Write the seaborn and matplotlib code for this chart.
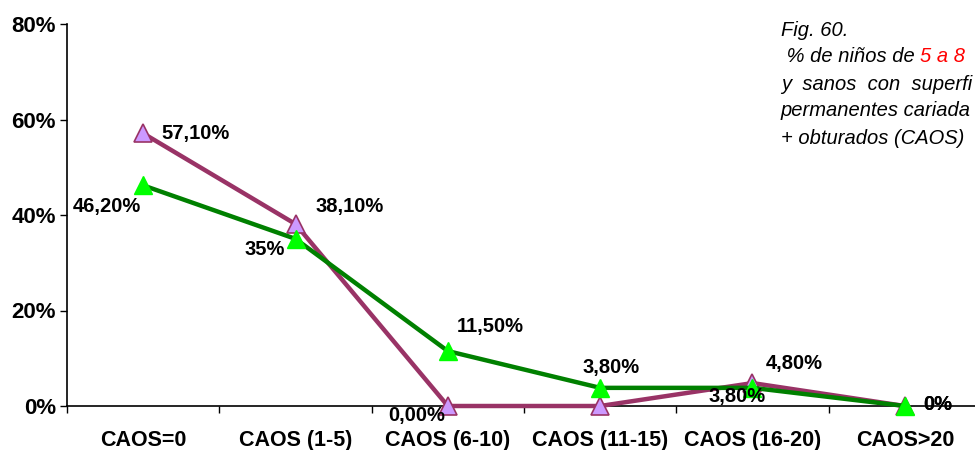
import matplotlib
matplotlib.use("Agg")
import matplotlib.pyplot as plt
import seaborn as sns
import numpy as np
from matplotlib.ticker import FixedLocator, FuncFormatter

categories = ["CAOS=0", "CAOS (1-5)", "CAOS (6-10)", "CAOS (11-15)", "CAOS (16-20)", "CAOS>20"]
serie_morada = [57.1, 38.1, 0.0, 0.0, 4.8, 0.0]
serie_verde = [46.2, 35.0, 11.5, 3.8, 3.8, 0.0]
etiquetas_morada = ["57,10%", "38,10%", "0,00%", "", "4,80%", "0%"]
etiquetas_verde = ["46,20%", "35%", "11,50%", "3,80%", "3,80%", "0%"]
y_ticks = [0, 20, 40, 60, 80]

sns.set_style("white")
plt.rcParams["font.family"] = ["Liberation Sans", "DejaVu Sans"]
plt.rcParams["text.color"] = "black"
plt.rcParams["xtick.color"] = "black"
plt.rcParams["ytick.color"] = "black"
plt.rcParams["axes.labelcolor"] = "black"

W, H = 975, 450
fig = plt.figure(figsize=(W / 100, H / 100), dpi=100)
left, right_px, top, bottom = 67, 67 + 914, 24, 406
ax = fig.add_axes([left / W, 1 - bottom / H, (right_px - left) / W, (bottom - top) / H])

x = np.arange(len(categories))
sns.lineplot(x=x, y=serie_morada, ax=ax, color="#993366", linewidth=3.2,
             marker="^", markersize=13, markerfacecolor="#CC99FF",
             markeredgecolor="#993366", markeredgewidth=1.2, clip_on=False, zorder=3)
sns.lineplot(x=x, y=serie_verde, ax=ax, color="#008000", linewidth=3.2,
             marker="^", markersize=13, markerfacecolor="#00FF00",
             markeredgecolor="#00FF00", markeredgewidth=1.0, clip_on=False, zorder=4)

ax.set_xlim(-0.5, 5.5)
ax.set_ylim(0, 80)
ax.yaxis.set_major_locator(FixedLocator(y_ticks))
ax.yaxis.set_major_formatter(FuncFormatter(lambda v, p: f"{int(v)}%"))
ax.set_xticks(x)
ax.set_xticklabels(categories)
ax.set_xticks(np.arange(-0.5, 5.6, 1.0), minor=True)
ax.tick_params(axis="x", which="major", length=0, pad=17, labelsize=15.5, labelcolor="black")
ax.tick_params(axis="x", which="minor", length=5, width=1, direction="out", bottom=True, color="black")
ax.tick_params(axis="y", which="major", length=5, width=1, direction="out", left=True,
               color="black", pad=3, labelsize=16, labelcolor="black")
for lab in ax.get_xticklabels() + ax.get_yticklabels():
    lab.set_fontweight("bold")
for s in ["top", "right"]:
    ax.spines[s].set_visible(False)
for s in ["left", "bottom"]:
    ax.spines[s].set_color("black")
    ax.spines[s].set_linewidth(1.2)
ax.set_xlabel("")
ax.set_ylabel("")
ax.grid(False)

# label offsets in pixels (dx, dy, ha)
off_m = [(18, 0, "left"), (20, 18, "left"), (-3, -10, "right"), None, (13, 20, "left"), (18, 2, "left")]
off_v = [(-2, -21, "right"), (-11, -11, "right"), (9, 25, "left"), (11, 20, "center"), (-15, -9, "center"), (18, 2, "left")]
for i in range(len(categories)):
    if etiquetas_morada[i] and off_m[i]:
        dx, dy, ha = off_m[i]
        ax.annotate(etiquetas_morada[i], (x[i], serie_morada[i]), xytext=(dx, dy),
                    textcoords="offset pixels", ha=ha, va="center", fontsize=14.5,
                    fontweight="bold", color="black", annotation_clip=False, zorder=6)
    if etiquetas_verde[i] and off_v[i]:
        dx, dy, ha = off_v[i]
        ax.annotate(etiquetas_verde[i], (x[i], serie_verde[i]), xytext=(dx, dy),
                    textcoords="offset pixels", ha=ha, va="center", fontsize=14.5,
                    fontweight="bold", color="black", annotation_clip=False, zorder=6)

# caption on the right, only the part visible in the reference
cap_kw = dict(fontsize=14.5, fontstyle="italic", va="center", ha="left", color="black")
fig.text(781 / W, 1 - 30 / H, "Fig. 60.", **cap_kw)
t2 = fig.text(781 / W, 1 - 57 / H, " % de niños de ", **cap_kw)
fig.canvas.draw()
bb = t2.get_window_extent()
cap_red = dict(cap_kw)
cap_red["color"] = "#FF0000"
fig.text(bb.x1 / W, 1 - 57 / H, "5 a 8", **cap_red)
fig.text(781 / W, 1 - 84 / H, "y  sanos  con  superfi", **cap_kw)
fig.text(781 / W, 1 - 111 / H, "permanentes cariada", **cap_kw)
fig.text(781 / W, 1 - 138 / H, "+ obturados (CAOS)", **cap_kw)

fig.savefig("out.png", dpi=100)
